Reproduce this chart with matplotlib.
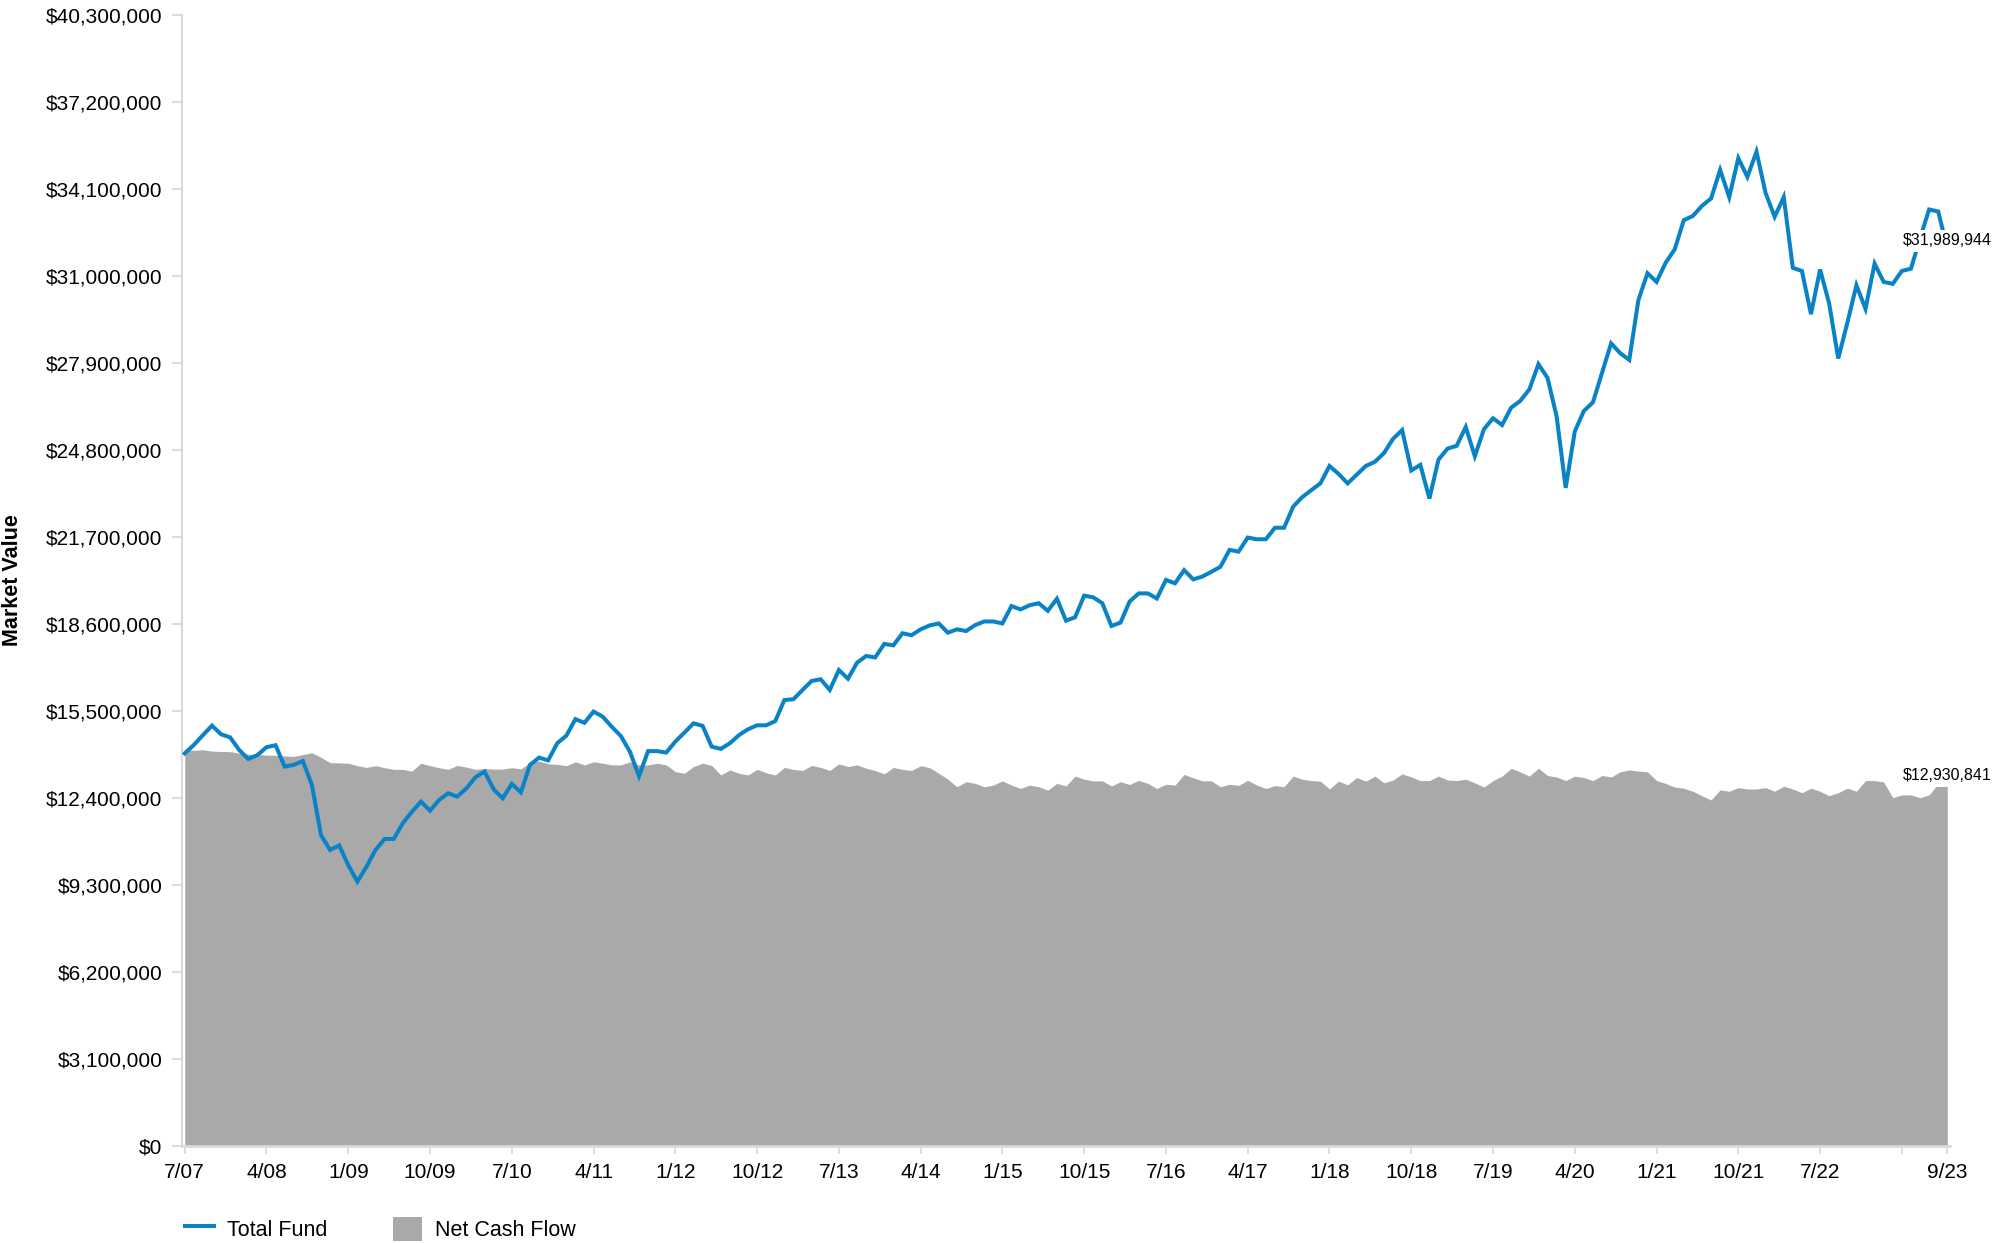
import numpy as np
from matplotlib import pyplot as plt
from matplotlib.lines import Line2D
from matplotlib.patches import Patch
from matplotlib.ticker import FuncFormatter

plt.rcParams["font.family"] = ["Liberation Sans", "DejaVu Sans"]

# month-end market values in $ millions, 7/07 through 9/23
total_fund = [
    13.99, 14.29, 14.64, 14.98, 14.67, 14.56,
    14.11, 13.79, 13.93, 14.21, 14.28, 13.52, 13.58, 13.72, 12.86, 11.08, 10.55, 10.71,
    10.01, 9.42, 9.95, 10.55, 10.94, 10.94, 11.50, 11.91, 12.27, 11.95, 12.33, 12.57,
    12.45, 12.74, 13.14, 13.34, 12.71, 12.39, 12.90, 12.60, 13.58, 13.84, 13.74, 14.35,
    14.62, 15.21, 15.08, 15.48, 15.30, 14.94, 14.61, 14.05, 13.18, 14.07, 14.07, 14.02,
    14.41, 14.73, 15.06, 14.97, 14.23, 14.15, 14.35, 14.64, 14.85, 14.99, 14.99, 15.14,
    15.89, 15.92, 16.25, 16.57, 16.63, 16.25, 16.96, 16.65, 17.22, 17.46, 17.41, 17.89,
    17.84, 18.27, 18.20, 18.41, 18.55, 18.62, 18.29, 18.41, 18.35, 18.56, 18.69, 18.69,
    18.62, 19.24, 19.12, 19.27, 19.34, 19.07, 19.50, 18.72, 18.84, 19.61, 19.55, 19.34,
    18.53, 18.65, 19.40, 19.69, 19.69, 19.51, 20.17, 20.05, 20.52, 20.19, 20.29, 20.46,
    20.64, 21.24, 21.18, 21.68, 21.62, 21.62, 22.03, 22.03, 22.78, 23.12, 23.37, 23.61,
    24.23, 23.95, 23.61, 23.92, 24.23, 24.38, 24.69, 25.20, 25.51, 24.07, 24.27, 23.07,
    24.46, 24.85, 24.95, 25.62, 24.58, 25.54, 25.93, 25.69, 26.31, 26.55, 26.96, 27.86,
    27.37, 26.00, 23.45, 25.46, 26.19, 26.50, 27.55, 28.60, 28.25, 28.01, 30.14, 31.10,
    30.79, 31.47, 31.95, 32.99, 33.14, 33.50, 33.76, 34.78, 33.81, 35.20, 34.53, 35.43,
    33.96, 33.11, 33.81, 31.29, 31.18, 29.64, 31.23, 30.02, 28.06, 29.33, 30.67, 29.83,
    31.44, 30.79, 30.72, 31.18, 31.26, 32.34, 33.37, 33.30, 31.989944,
]

net_cash_flow = [
    14.13, 14.10, 14.12, 14.07, 14.06, 14.05,
    14.00, 13.96, 13.95, 13.93, 13.92, 13.90, 13.88, 13.95, 14.01, 13.85, 13.66, 13.65,
    13.64, 13.55, 13.49, 13.55, 13.48, 13.42, 13.42, 13.36, 13.64, 13.55, 13.48, 13.42,
    13.56, 13.50, 13.42, 13.45, 13.43, 13.43, 13.48, 13.44, 13.66, 13.72, 13.62, 13.60,
    13.55, 13.69, 13.58, 13.69, 13.64, 13.58, 13.58, 13.69, 13.58, 13.58, 13.64, 13.58,
    13.34, 13.28, 13.52, 13.64, 13.56, 13.22, 13.40, 13.28, 13.22, 13.42, 13.30, 13.22,
    13.49, 13.42, 13.38, 13.56, 13.49, 13.38, 13.62, 13.52, 13.58, 13.46, 13.38, 13.26,
    13.49, 13.42, 13.38, 13.55, 13.48, 13.28, 13.07, 12.80, 12.98, 12.92, 12.80, 12.86,
    13.01, 12.86, 12.74, 12.86, 12.80, 12.68, 12.92, 12.83, 13.18, 13.07, 13.01, 13.01,
    12.83, 12.98, 12.88, 13.03, 12.92, 12.74, 12.89, 12.86, 13.24, 13.12, 13.01, 13.01,
    12.80, 12.89, 12.85, 13.03, 12.86, 12.74, 12.84, 12.80, 13.18, 13.07, 13.02, 13.00,
    12.72, 13.00, 12.87, 13.13, 13.00, 13.18, 12.94, 13.04, 13.26, 13.15, 13.02, 13.02,
    13.18, 13.04, 13.02, 13.07, 12.94, 12.79, 13.02, 13.18, 13.46, 13.33, 13.18, 13.46,
    13.20, 13.15, 13.02, 13.18, 13.13, 13.02, 13.20, 13.15, 13.33, 13.40, 13.36, 13.33,
    13.02, 12.92, 12.79, 12.75, 12.64, 12.48, 12.33, 12.69, 12.64, 12.77, 12.72, 12.72,
    12.77, 12.64, 12.82, 12.72, 12.59, 12.75, 12.64, 12.48, 12.59, 12.75, 12.64, 13.02,
    13.02, 12.97, 12.41, 12.51, 12.51, 12.41, 12.51, 12.92, 12.930841,
]

x_tick_months = list(range(0, 190, 9)) + [194]
x_tick_labels = [
    "7/07", "4/08", "1/09", "10/09", "7/10", "4/11", "1/12", "10/12",
    "7/13", "4/14", "1/15", "10/15", "7/16", "4/17", "1/18", "10/18",
    "7/19", "4/20", "1/21", "10/21", "7/22", "", "9/23",
]
y_ticks = np.arange(14) * 3_100_000

blue = "#0a83c6"
gray = "#a9a9a9"
axis_gray = "#d9d9d9"

total = np.array(total_fund) * 1e6
net = np.array(net_cash_flow) * 1e6
months = np.arange(len(total))

fig = plt.figure(figsize=(19.96, 12.43), dpi=100)
ax = fig.add_axes([182 / 1996, 1 - 1146 / 1243, 1768 / 1996, 1131 / 1243])

# net cash flow as filled area, total fund as line on top
ax.fill_between(months, 0, net, color=gray, linewidth=0, zorder=1)
ax.plot(months, total, color=blue, linewidth=2.9, solid_joinstyle="miter", zorder=3)

# end-of-period value labels, boxed so they sit over the line end
label_style = dict(
    textcoords="offset points",
    xytext=(0, 0),
    ha="center",
    va="bottom",
    fontsize=11.5,
    annotation_clip=False,
    zorder=5,
    bbox=dict(facecolor="white", edgecolor="none", pad=2.5),
)
ax.annotate(f"${total[-1]:,.0f}", xy=(months[-1], total[-1]), **label_style)
ax.annotate(f"${net[-1]:,.0f}", xy=(months[-1], net[-1]), **label_style)

# axes styling
ax.set_xlim(-0.3, months[-1] + 0.3)
ax.set_ylim(0, y_ticks[-1])
ax.set_yticks(y_ticks)
ax.yaxis.set_major_formatter(FuncFormatter(lambda v, pos: f"${v:,.0f}"))
ax.set_xticks(x_tick_months)
ax.set_xticklabels(x_tick_labels)

for side in ("top", "right"):
    ax.spines[side].set_visible(False)
ax.spines["left"].set_color(axis_gray)
ax.spines["left"].set_linewidth(1.5)
ax.spines["bottom"].set_color(axis_gray)
ax.spines["bottom"].set_linewidth(2)
ax.spines["bottom"].set_zorder(4)

ax.tick_params(axis="y", length=7, width=1.3, color=axis_gray, labelsize=15, pad=7)
ax.tick_params(axis="x", length=6, width=1.3, color=axis_gray, labelsize=15, pad=6)

fig.text(
    13 / 1996, 1 - 580 / 1243, "Market Value",
    rotation=90, ha="center", va="center", fontsize=15.5, fontweight="bold",
)

# legend along the bottom
handles = [
    Line2D([], [], color=blue, linewidth=2.9),
    Patch(facecolor=gray, edgecolor="none"),
]
fig.legend(
    handles,
    ["Total Fund", "Net Cash Flow"],
    loc="center left",
    bbox_to_anchor=(185 / 1996, 1 - 1229 / 1243),
    ncol=2,
    frameon=False,
    fontsize=15.5,
    handlelength=1.35,
    handleheight=1.35,
    handletextpad=0.6,
    columnspacing=3.05,
    borderpad=0,
    borderaxespad=0,
)

fig.savefig("out.png", dpi=100)
